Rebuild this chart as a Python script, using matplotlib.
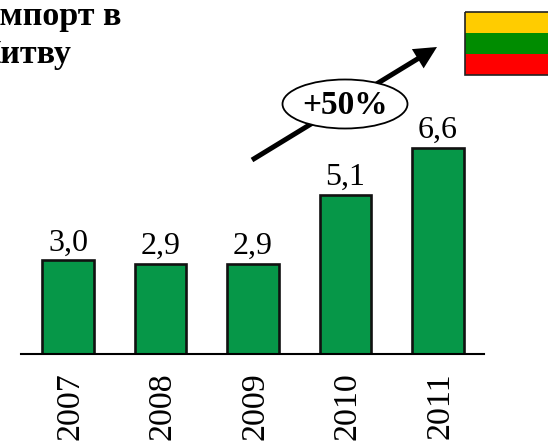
import matplotlib
matplotlib.use('Agg')
import matplotlib.pyplot as plt
from matplotlib.patches import Ellipse, Rectangle
from matplotlib.transforms import ScaledTranslation

W, H = 548, 446

years = ['2007', '2008', '2009', '2010', '2011']
values = [3.0, 2.9, 2.9, 5.1, 6.6]
labels = ['3,0', '2,9', '2,9', '5,1', '6,6']
flag_colors = ['#ffcc00', '#008c00', '#ff0000']

fig = plt.figure(figsize=(W / 100, H / 100), dpi=100)

# bars, axes placed in pixels
ax = fig.add_axes([21 / W, 1 - 354 / H, 463 / W, 354 / H])
ax.bar(range(5), values, width=0.56, color='#069748', edgecolor='#111111', linewidth=1.9)
ax.set_xlim(-0.508, 4.497)
ax.set_ylim(0, 354 / 31.2)
for s in ['top', 'left', 'right']:
    ax.spines[s].set_visible(False)
ax.spines['bottom'].set_linewidth(1.5)
ax.set_yticks([])
ax.set_xticks(range(5))
ax.set_xticklabels(years, rotation=90, fontsize=24.5, family='Liberation Serif')
ax.tick_params(axis='x', length=0, pad=13)
# years sit a little right of the bar centres
nudge = ScaledTranslation(2 / 100, 0, fig.dpi_scale_trans)
for t in ax.get_xticklabels():
    t.set_transform(t.get_transform() + nudge)
for i, v in enumerate(values):
    ax.annotate(labels[i], (i, v), xytext=(0, 2), textcoords='offset points', ha='center',
                va='bottom', fontsize=23, family='Liberation Serif')

# overlay in image pixels for the arrow, ellipse, flag, title
ov = fig.add_axes([0, 0, 1, 1])
ov.set_xlim(0, W)
ov.set_ylim(H, 0)
ov.axis('off')
ov.patch.set_alpha(0)

ov.annotate('', xy=(437, 47), xytext=(252, 160),
            arrowprops=dict(arrowstyle='-|>,head_length=0.8,head_width=0.4', color='black',
                            lw=3.6, shrinkA=0, shrinkB=0, mutation_scale=13, capstyle='butt',
                            joinstyle='miter'))
ov.add_patch(Ellipse((345, 104), 125, 49, fc='white', ec='black', lw=1.3, zorder=3))
ov.text(345, 105, '+50%', ha='center', va='center', fontsize=24, weight='bold',
        family='Liberation Serif', zorder=4)

for i, c in enumerate(flag_colors):
    ov.add_patch(Rectangle((465, 12 + i * 21), 90, 21, fc=c, ec='none', zorder=2))
ov.add_patch(Rectangle((465, 12), 90, 63, fc='none', ec='#222222', lw=1.2, zorder=3))

ov.text(121, 25, 'Импорт в', ha='right', va='baseline', fontsize=24.5, weight='bold',
        family='Liberation Serif')
ov.text(72, 63, 'Литву', ha='right', va='baseline', fontsize=24.5, weight='bold',
        family='Liberation Serif')

fig.savefig('out.png', dpi=100)
